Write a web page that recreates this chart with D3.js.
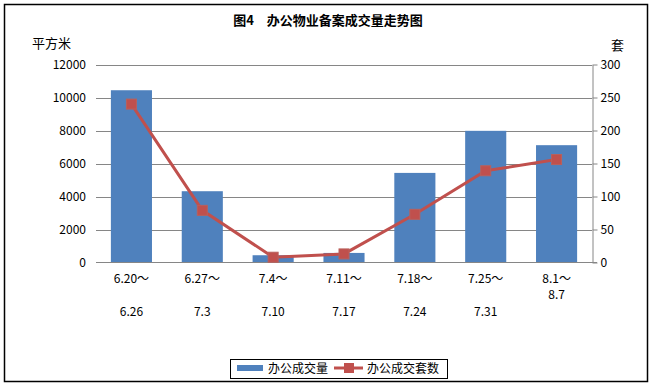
<!DOCTYPE html>
<html><head><meta charset="utf-8">
<script src="https://cdn.jsdelivr.net/npm/d3@7/dist/d3.min.js"></script>
<style>body{margin:0;background:#fff}svg{display:block}text{font-family:"Noto Sans CJK SC","DejaVu Sans",sans-serif;font-size:12px;fill:#000}</style>
</head><body><svg id="c" width="652" height="386"></svg>
<script>
const categoriesTop = ["6.20～","6.27～","7.4～","7.11～","7.18～","7.25～","8.1～"];
const categoriesBottom = ["6.26","7.3","7.10","7.17","7.24","7.31","8.7"];
const areaValues = [10440, 4320, 440, 580, 5430, 7980, 7110];
const unitValues = [240, 79, 8, 13, 73, 139, 156];
const leftTicks = [0,2000,4000,6000,8000,10000,12000];
const rightTicks = [0,50,100,150,200,250,300];

const svg = d3.select("#c");
svg.append("rect").attr("x",4.5).attr("y",4.5).attr("width",643).attr("height",377)
  .attr("fill","#fff").attr("stroke","#000").attr("stroke-width",1.5);

const L=96,R=592,T=64.5,B=262.5;
const x = d3.scaleBand().domain(d3.range(categoriesTop.length)).range([L,R]).paddingInner(0.42).paddingOuter(0.21);
const yL = d3.scaleLinear().domain([0,12000]).range([B,T]);
const yR = d3.scaleLinear().domain([0,300]).range([B,T]);

svg.append("g").selectAll("line").data(leftTicks.slice(1)).join("line")
  .attr("x1",L).attr("x2",R).attr("y1",d=>Math.round(yL(d))+0.5).attr("y2",d=>Math.round(yL(d))+0.5)
  .attr("stroke","#868686");

const gl = svg.append("g").attr("transform",`translate(${L},0)`)
  .call(d3.axisLeft(yL).tickValues(leftTicks).tickSize(0).tickPadding(10).tickFormat(d3.format("d")));
gl.select(".domain").remove();
gl.selectAll("text").style("font-size","12px");

svg.append("g").selectAll("rect").data(areaValues).join("rect")
  .attr("x",(d,i)=>x(i)).attr("width",x.bandwidth())
  .attr("y",d=>yL(d)).attr("height",d=>B-yL(d)).attr("fill","#4F81BD");

svg.append("line").attr("x1",L).attr("x2",R+5).attr("y1",B).attr("y2",B).attr("stroke","#868686");

const gr = svg.append("g").attr("transform",`translate(${R+0.5},0)`)
  .call(d3.axisRight(yR).tickValues(rightTicks).tickSize(5).tickPadding(3).tickSizeOuter(0));
gr.select(".domain").attr("stroke","#868686");
gr.selectAll(".tick line").attr("stroke","#868686");
gr.selectAll("text").style("font-size","12px");

const line = d3.line().x((d,i)=>x(i)+x.bandwidth()/2).y(d=>yR(d));
svg.append("path").datum(unitValues).attr("d",line).attr("fill","none")
  .attr("stroke","#C0504D").attr("stroke-width",3);
svg.append("g").selectAll("rect").data(unitValues).join("rect")
  .attr("x",(d,i)=>x(i)+x.bandwidth()/2-5).attr("y",d=>yR(d)-5).attr("width",10).attr("height",10)
  .attr("fill","#C0504D").attr("stroke","#B9605C").attr("stroke-width",1);

const xl = svg.append("g");
categoriesTop.forEach((c,i)=>{
  const cx = x(i)+x.bandwidth()/2;
  const last = i===categoriesTop.length-1;
  xl.append("text").attr("x",cx).attr("y",283).attr("text-anchor","middle").text(c);
  xl.append("text").attr("x",cx).attr("y",last?299:316).attr("text-anchor","middle").text(categoriesBottom[i]);
});

svg.append("text").attr("x",328).attr("y",25).attr("text-anchor","middle")
  .style("font-weight","bold").style("font-size","13px").text("图4　办公物业备案成交量走势图");
svg.append("text").attr("x",32).attr("y",48).style("font-size","13px").text("平方米");
svg.append("text").attr("x",611).attr("y",50).style("font-size","13px").text("套");

const lg = svg.append("g");
lg.append("rect").attr("x",230.5).attr("y",359.5).attr("width",217).attr("height",19).attr("fill","#fff").attr("stroke","#000");
lg.append("rect").attr("x",237).attr("y",365).attr("width",26).attr("height",6).attr("fill","#4F81BD");
lg.append("text").attr("x",268).attr("y",373).text("办公成交量");
lg.append("line").attr("x1",334).attr("x2",363).attr("y1",368).attr("y2",368).attr("stroke","#C0504D").attr("stroke-width",3);
lg.append("rect").attr("x",344).attr("y",363).attr("width",10).attr("height",10).attr("fill","#C0504D");
lg.append("text").attr("x",367).attr("y",373).text("办公成交套数");
</script></body></html>
